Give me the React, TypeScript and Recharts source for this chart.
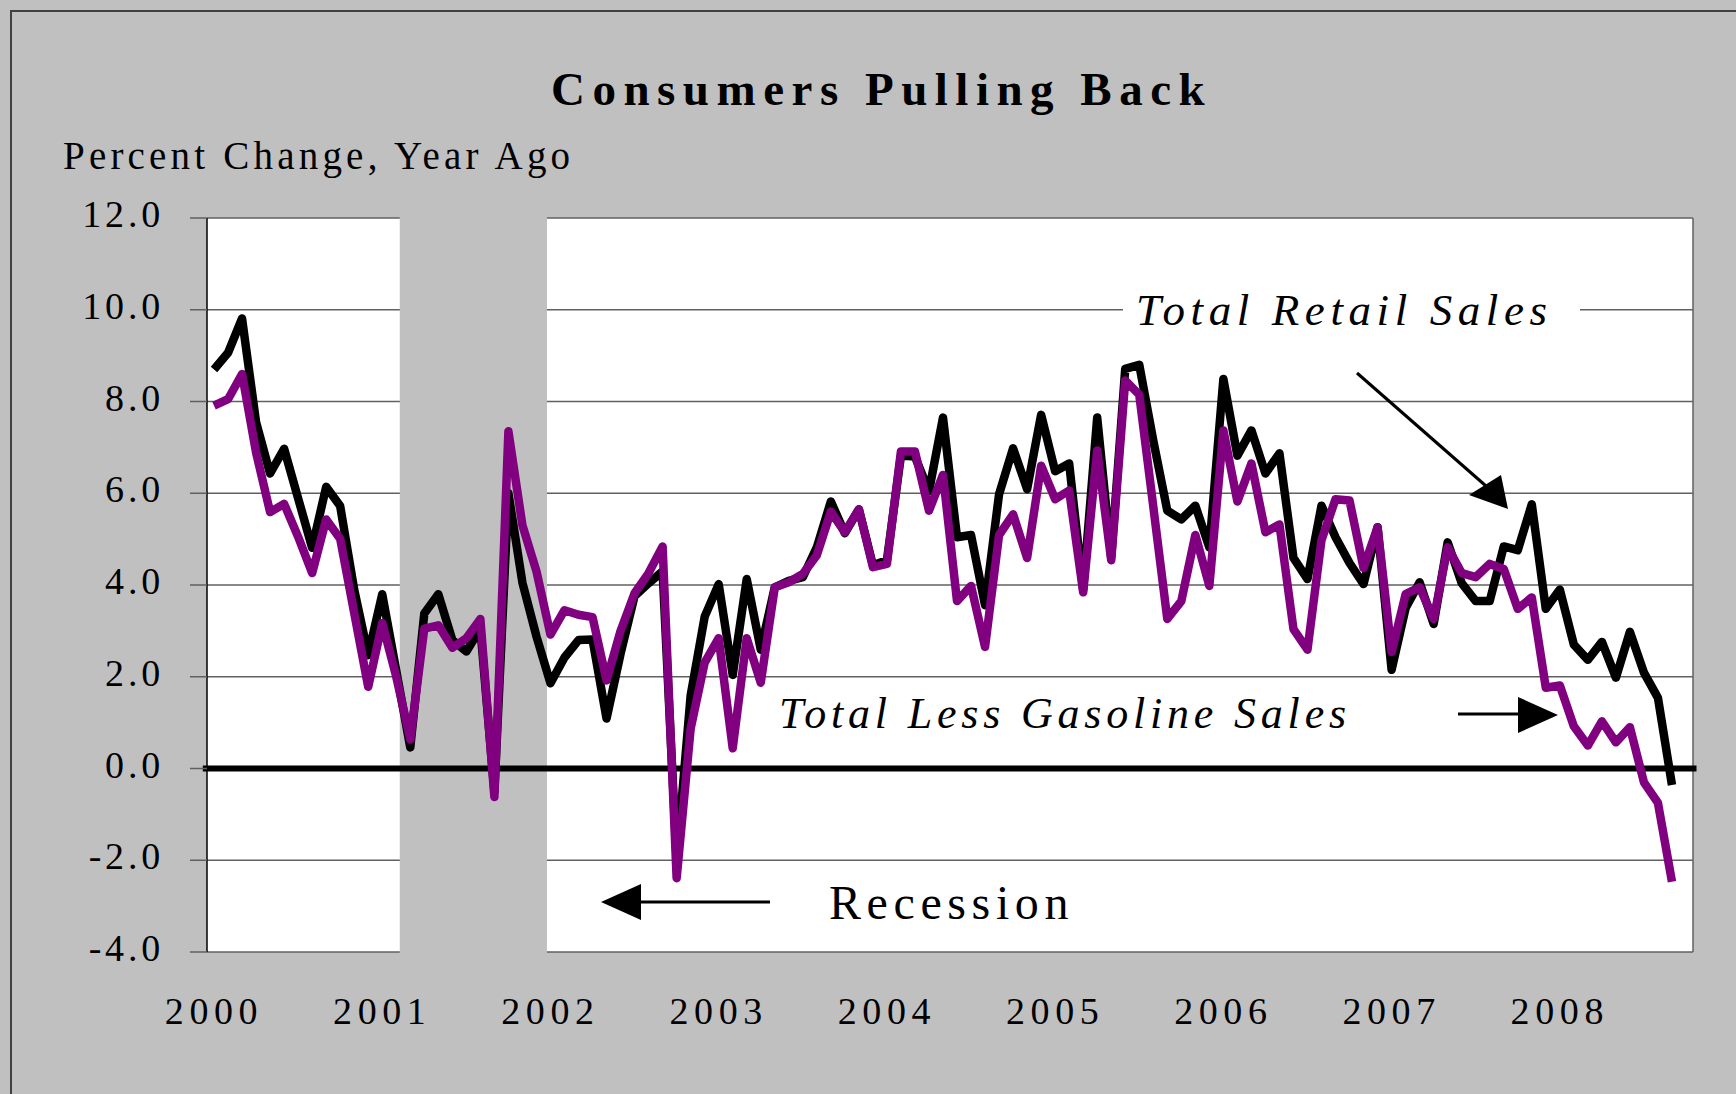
import { LineChart, Line, XAxis, YAxis, CartesianGrid, ReferenceArea, ReferenceLine } from 'recharts'

const SERIF = '"Liberation Serif", "Times New Roman", Times, serif'
const PURPLE = '#800080'
const BG = '#C0C0C0'
const GRID = '#606060'

// monthly, Jan 2000 .. Sep 2008, percent change year ago
const totalRetail = [
  8.7, 9.06, 9.81, 7.55, 6.43, 6.97, 5.89, 4.81, 6.14, 5.72, 3.9, 2.47,
  3.8, 2.13, 0.46, 3.38, 3.8, 2.8, 2.55, 3.05, -0.5, 6.0, 4.05, 2.88,
  1.86, 2.42, 2.8, 2.81, 1.09, 2.5, 3.76, 4.04, 4.3, -2.0, 1.59, 3.31,
  4.02, 2.04, 4.13, 2.59, 3.95, 4.09, 4.17, 4.82, 5.82, 5.13, 5.65, 4.43,
  4.54, 6.82, 6.8, 6.04, 7.65, 5.04, 5.09, 3.56, 5.98, 6.98, 6.09, 7.71,
  6.48, 6.65, 3.9, 7.65, 4.6, 8.71, 8.8, 7.15, 5.62, 5.43, 5.73, 4.82,
  8.49, 6.82, 7.37, 6.43, 6.87, 4.59, 4.13, 5.73, 5.04, 4.48, 4.02, 5.26,
  2.15, 3.5, 4.06, 3.15, 4.93, 4.04, 3.65, 3.65, 4.84, 4.76, 5.76, 3.48,
  3.9, 2.7, 2.37, 2.76, 1.98, 2.98, 2.09, 1.54, -0.36,
]

const lessGasoline = [
  7.91, 8.05, 8.6, 6.89, 5.59, 5.77, 5.05, 4.26, 5.43, 5.01, 3.39, 1.78,
  3.17, 2.0, 0.63, 3.05, 3.12, 2.63, 2.84, 3.26, -0.62, 7.35, 5.3, 4.3,
  2.92, 3.45, 3.35, 3.3, 1.92, 3.0, 3.82, 4.26, 4.84, -2.39, 0.87, 2.31,
  2.84, 0.44, 2.84, 1.87, 3.95, 4.06, 4.24, 4.65, 5.6, 5.15, 5.65, 4.39,
  4.46, 6.91, 6.91, 5.62, 6.4, 3.65, 3.98, 2.65, 5.09, 5.54, 4.59, 6.6,
  5.87, 6.06, 3.84, 6.93, 4.54, 8.46, 8.15, 5.71, 3.26, 3.65, 5.09, 3.98,
  7.37, 5.82, 6.65, 5.15, 5.32, 3.04, 2.59, 4.98, 5.87, 5.84, 4.37, 5.26,
  2.54, 3.8, 3.95, 3.26, 4.82, 4.26, 4.17, 4.46, 4.35, 3.48, 3.73, 1.76,
  1.81, 0.92, 0.5, 1.03, 0.57, 0.9, -0.3, -0.75, -2.47,
]

const yearTicks = [0, 12, 24, 36, 48, 60, 72, 84, 96]
const yearLabels = ['2000', '2001', '2002', '2003', '2004', '2005', '2006', '2007', '2008']
const yTicks = [-4, -2, 0, 2, 4, 6, 8, 10, 12]

// recession band, in month slots (Mar - Nov 2001)
const recessionStart = 13.25
const recessionEnd = 23.75

const data = totalRetail.map((v, i) => ({ month: i, total: v, lessGas: lessGasoline[i] }))

const YTick = (props: any) => {
  const { x, y, payload } = props
  return (
    <text x={x} y={y} dy={9} textAnchor="end" fontFamily={SERIF} fontSize={38} letterSpacing={3.8} fill="#000">
      {Number(payload.value).toFixed(1)}
    </text>
  )
}

const XTick = (props: any) => {
  const { x, y, payload } = props
  const label = yearLabels[yearTicks.indexOf(payload.value)]
  return (
    <text x={x} y={y} dy={72} textAnchor="middle" fontFamily={SERIF} fontSize={38} letterSpacing={5.6} fill="#000">
      {label}
    </text>
  )
}

export default function App() {
  return (
    <div style={{ position: 'relative', width: 1736, height: 1094, background: BG, overflow: 'hidden' }}>
      <style>{'body{margin:0}'}</style>
      <div
        style={{
          position: 'absolute',
          left: 10,
          top: 10,
          width: 1800,
          height: 1200,
          border: '2px solid #404040',
        }}
      />
      <div style={{ position: 'absolute', left: 0, top: 0 }}>
        <LineChart width={1736} height={1094} data={data} margin={{ top: 218, right: 43, left: 87, bottom: 62 }}>
          <CartesianGrid vertical={false} stroke={GRID} strokeWidth={1.5} fill="#fff" fillOpacity={1} />
          <ReferenceArea
            x1={recessionStart}
            x2={recessionEnd}
            y1={-4.06}
            y2={12.06}
            fill={BG}
            fillOpacity={1}
            stroke="none"
            ifOverflow="visible"
          />
          <XAxis
            dataKey="month"
            type="number"
            domain={[-0.5, 105.5]}
            ticks={yearTicks}
            interval={0}
            axisLine={false}
            tickLine={false}
            tickSize={0}
            tickMargin={0}
            height={80}
            tick={<XTick />}
          />
          <YAxis
            type="number"
            domain={[-4, 12]}
            ticks={yTicks}
            interval={0}
            width={120}
            axisLine={{ stroke: '#000', strokeWidth: 1.5 }}
            tickLine={{ stroke: GRID, strokeWidth: 1.5 }}
            tickSize={17}
            tickMargin={26}
            tick={<YTick />}
          />
          <ReferenceLine
            segment={[{ x: 105.5, y: -4 }, { x: 105.5, y: 12 }]}
            stroke={GRID}
            strokeWidth={1.5}
            ifOverflow="visible"
          />
          <ReferenceLine
            segment={[{ x: -0.8, y: 0 }, { x: 105.75, y: 0 }]}
            stroke="#000"
            strokeWidth={6}
            ifOverflow="visible"
          />
          <Line
            type="linear"
            dataKey="total"
            stroke="#000"
            strokeWidth={8.5}
            strokeLinejoin="round"
            dot={false}
            isAnimationActive={false}
          />
          <Line
            type="linear"
            dataKey="lessGas"
            stroke={PURPLE}
            strokeWidth={8.5}
            strokeLinejoin="round"
            dot={false}
            isAnimationActive={false}
          />
        </LineChart>
      </div>
      <svg width={1736} height={1094} style={{ position: 'absolute', left: 0, top: 0, pointerEvents: 'none' }}>
        <text x={551} y={105} fontFamily={SERIF} fontSize={47} fontWeight="bold" letterSpacing={7.5} fill="#000">
          Consumers Pulling Back
        </text>
        <text x={63} y={169} fontFamily={SERIF} fontSize={39} letterSpacing={4.2} fill="#000">
          Percent Change, Year Ago
        </text>

        <rect x={1123} y={288} width={457} height={44} fill="#fff" />
        <text x={1136} y={325} fontFamily={SERIF} fontSize={45} fontStyle="italic" letterSpacing={5.6} fill="#000">
          Total Retail Sales
        </text>
        <line x1={1357} y1={373} x2={1486} y2={486} stroke="#000" strokeWidth={3} />
        <polygon points="1469,495 1501,475 1508,509" fill="#000" />

        <text x={779} y={728} fontFamily={SERIF} fontSize={44} fontStyle="italic" letterSpacing={4.8} fill="#000">
          Total Less Gasoline Sales
        </text>
        <line x1={1458} y1={714} x2={1520} y2={714} stroke="#000" strokeWidth={3} />
        <polygon points="1518,697 1558,715 1518,733" fill="#000" />

        <text x={829} y={919} fontFamily={SERIF} fontSize={48} letterSpacing={5.6} fill="#000">
          Recession
        </text>
        <line x1={639} y1={902} x2={770} y2={902} stroke="#000" strokeWidth={3} />
        <polygon points="601,902 641,884 641,920" fill="#000" />
      </svg>
    </div>
  )
}
